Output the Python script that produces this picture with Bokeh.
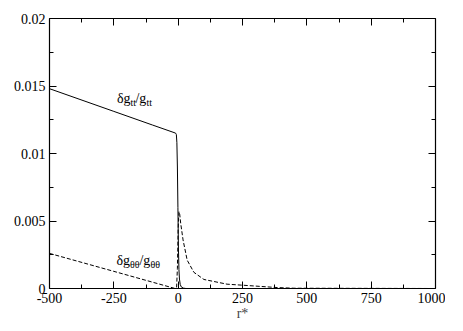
from bokeh.plotting import figure
from bokeh.models import (LinearAxis, FixedTicker, Range1d, Label)
from bokeh.embed import file_html
from bokeh.resources import INLINE

# ---- data ----
r_tt = [-500, -250, -100, -10, -7, -5, -3, -1, 1, 3, 5, 8, 12, 20, 30, 1000]
g_tt = [0.0148, 0.01312, 0.01211, 0.01151, 0.0114, 0.0108, 0.0090, 0.0060,
        0.0030, 0.0014, 0.0007, 0.0003, 0.00012, 0.00003, 0.0, 0.0]

r_th = [-500, -250, -100, -12, -6, -3, 0, 3, 6, 10, 19, 35, 61, 100, 190, 254, 385, 450, 1000]
g_th = [0.0026, 0.00127, 0.00047, 0.0, 0.0001, 0.0015, 0.0045, 0.0057, 0.0055,
        0.0048, 0.0036, 0.0021, 0.0012, 0.00067, 0.00032, 0.00024, 0.00007, 0.00002, 0.0]

x_ticks = [-500, -250, 0, 250, 500, 750, 1000]
x_tick_labels = ["-500", "-250", "0", "250", "500", "750", "1000"]
x_minor = [-375, -125, 125, 375, 625, 875]
y_ticks = [0, 0.005, 0.01, 0.015, 0.02]
y_tick_labels = ["0", "0.005", "0.01", "0.015", "0.02"]
y_minor = [0.0025, 0.0075, 0.0125, 0.0175]
x_label = "r*"

FONT = "Liberation Serif"

p = figure(frame_width=386, frame_height=270, output_backend="svg", toolbar_location=None,
           x_range=Range1d(-500, 1000), y_range=Range1d(0, 0.02),
           min_border_left=49, min_border_right=10, min_border_top=18, min_border_bottom=30,
           background_fill_color="white", border_fill_color="white")
p.grid.visible = False
p.outline_line_color = None

p.line(r_tt, g_tt, line_color="black", line_width=1)
p.line(r_th, g_th, line_color="black", line_width=1, line_dash="4 2")

def style(ax, labels=True):
    ax.axis_line_color = "black"
    ax.axis_line_width = 1.2
    ax.major_tick_in = 7
    ax.major_tick_out = 0
    ax.minor_tick_in = 4
    ax.minor_tick_out = 0
    ax.major_tick_line_color = "black"
    ax.minor_tick_line_color = "black"
    ax.major_label_text_font = FONT
    ax.major_label_text_font_size = "14px" if labels else "1px"
    ax.major_label_text_color = "black" if labels else None
    ax.major_label_standoff = 4 if labels else 0

xa = p.xaxis[0]
xa.ticker = FixedTicker(ticks=x_ticks, minor_ticks=x_minor)
xa.major_label_overrides = {t: s for t, s in zip(x_ticks, x_tick_labels)}
style(xa)
xa.axis_label = x_label
xa.axis_label_text_font = FONT
xa.axis_label_text_font_size = "14px"
xa.axis_label_text_font_style = "normal"
xa.axis_label_standoff = 0

ya = p.yaxis[0]
ya.ticker = FixedTicker(ticks=y_ticks, minor_ticks=y_minor)
ya.major_label_overrides = {t: s for t, s in zip(y_ticks, y_tick_labels)}
style(ya)

top = LinearAxis(ticker=FixedTicker(ticks=x_ticks, minor_ticks=x_minor))
style(top, labels=False)
p.add_layout(top, "above")
right = LinearAxis(ticker=FixedTicker(ticks=y_ticks, minor_ticks=y_minor))
style(right, labels=False)
p.add_layout(right, "right")

def add_label(x, y, parts):
    for text, dx, dy, size in parts:
        p.add_layout(Label(x=x, y=y, x_offset=dx, y_offset=dy, text=text,
                           text_font=FONT, text_font_size=size, text_color="black",
                           text_baseline="alphabetic", text_align="left"))

add_label(-238, 0.01404, [("δg", 0, 0, "14px"), ("tt", 13.5, -4, "10px"),
                          ("/g", 18.5, 0, "14px"), ("tt", 29.5, -4, "10px")])
add_label(-240, 0.0021, [("δg", 0, 0, "14px"), ("θθ", 13.5, -4, "10px"),
                         ("/g", 23, 0, "14px"), ("θθ", 34, -4, "10px")])

open("out.html", "w").write(file_html(p, INLINE))
